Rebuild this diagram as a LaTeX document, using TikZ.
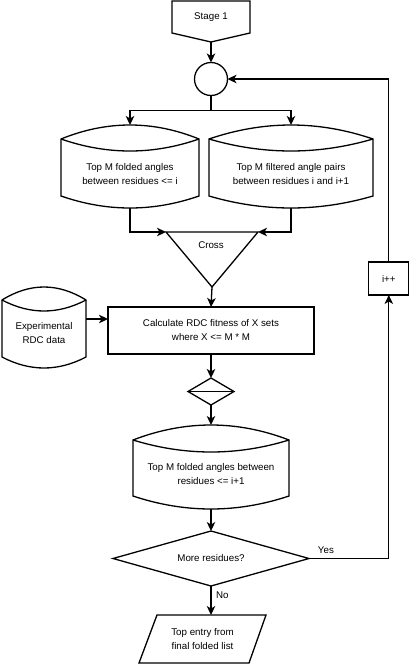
\documentclass[tikz,border=0pt]{standalone}
\usepackage{fontspec}
\setmainfont{Liberation Sans}
\usetikzlibrary{arrows.meta,calc,shapes.geometric}
\newcommand\dbshape[8]{%
  \pgfmathsetmacro\dbw{#3-#2}%
  \pgfmathsetmacro\dbh{#8-#4}%
  \pgfmathsetmacro\dbcx{(#2+#3)/2}%
  \pgfmathsetmacro\dbcy{(#4+#8)/2}%
  \pgfmathsetmacro\dbxa{#2+(#3-#2)/3}%
  \pgfmathsetmacro\dbxb{#2+2*(#3-#2)/3}%
  \pgfmathsetmacro\dbya{#5+4/3*(#4-#5)}%
  \pgfmathsetmacro\dbyb{#5+4/3*(#6-#5)}%
  \pgfmathsetmacro\dbyc{#7+4/3*(#8-#7)}%
  \draw[shapeline] (#2,#5) .. controls (\dbxa,\dbya) and (\dbxb,\dbya) .. (#3,#5) -- (#3,#7) .. controls (\dbxb,\dbyc) and (\dbxa,\dbyc) .. (#2,#7) -- cycle;
  \draw[shapeline] (#2,#5) .. controls (\dbxa,\dbyb) and (\dbxb,\dbyb) .. (#3,#5);
  \node[box0, minimum width=\dbw pt, minimum height=\dbh pt] (#1) at (\dbcx,\dbcy) {};
}
\begin{document}
\begin{tikzpicture}[x=1pt,y=-1pt,line width=1.3pt,
  every node/.style={font=\fontsize{9.75}{14}\selectfont, align=center, inner sep=0pt, outer sep=0pt},
  box0/.style={rectangle, draw=none, minimum width=0pt, minimum height=0pt},
  shapeline/.style={draw, line join=miter},
  arr/.style={draw, -{Stealth[length=9pt,width=8.5pt,inset=2.5pt]}}]
\useasboundingbox (0,0) rectangle (410,664);

% Stage 1
\node[box0, minimum width=78pt, minimum height=32pt] (stage) at (211,17) {Stage 1};
\coordinate (stagetip) at ($(stage.south)+(0,9)$);
\draw[shapeline] (stage.north west) -- (stage.north east) -- (stage.south east) -- (stagetip) -- (stage.south west) -- cycle;

% junction circle
\node[circle, draw, minimum size=33pt] (join) at (211,79) {};
\draw[arr] (stagetip) -- (join.north);

% upper stores
\dbshape{tapeL}{61}{199}{125}{139}{151}{196}{208}
\node (tapeLt) at (130,174) {Top M folded angles\\between residues <= i};
\dbshape{tapeR}{209}{373}{125}{139}{151}{196}{208}
\node (tapeRt) at (291,174) {Top M filtered angle pairs\\between residues i and i+1};
\draw[arr] (join.south) -- ++(0,15) -| (tapeL.north);
\draw[arr] (join.south) -- ++(0,15) -| (tapeR.north);

% cross (merge)
\node[box0, minimum width=92pt, minimum height=55pt] (cross) at (212,259.5) {};
\draw[shapeline] (cross.north west) -- (cross.north east) -- (cross.south) -- cycle;
\node (crosst) at (211,245) {Cross};
\draw[arr] (tapeL.south) |- (cross.north west);
\draw[arr] (tapeR.south) |- (cross.north east);

% calculate
\node[draw, minimum width=206pt, minimum height=47pt] (calc) at (211,330.5) {Calculate RDC fitness of X sets\\where X <= M * M};
\draw[arr] (cross.south) -- (calc.north);

% experimental data
\dbshape{exp}{2}{86}{287}{300}{311}{357}{368}
\node (expt) at (44,333) {Experimental\\RDC data};
\coordinate (expout) at ($(exp.east)+(0,-8.5)$);
\draw[arr] (expout) -- (expout -| calc.west);

% sort
\node[diamond, draw, minimum width=46pt, minimum height=27pt] (sortd) at (211,391.5) {};
\draw (sortd.west) -- (sortd.east);
\draw[arr] (calc.south) -- (sortd.north);

% lower store
\dbshape{tapeB}{133}{289}{425}{440}{452}{496}{509}
\node (tapeBt) at (211,474.5) {Top M folded angles between\\residues <= i+1};
\draw[arr] (sortd.south) -- (tapeB.north);

% decision
\node[diamond, draw, aspect=3.5, minimum width=196pt, minimum height=55pt] (dec) at (211,558.5) {More residues?};
\draw[arr] (tapeB.south) -- (dec.north);

% output
\node[box0, minimum width=127pt, minimum height=48pt] (out) at (202.5,639) {Top entry from\\final folded list};
\draw[shapeline] ($(out.north west)+(18,0)$) -- (out.north east) -- ($(out.south east)+(-17,0)$) -- (out.south west) -- cycle;
\draw[arr] (dec.south) -- node[pos=0.3, right=5pt] {No} (dec.south |- out.north);

% increment
\node[draw, minimum width=40pt, minimum height=33pt] (inc) at (388.8,278.5) {i++};
\draw[arr] (dec.east) -| node[pos=0.106, yshift=8pt] {Yes} (inc.south);
\draw[arr] (inc.north) |- (join.east);
\end{tikzpicture}
\end{document}
